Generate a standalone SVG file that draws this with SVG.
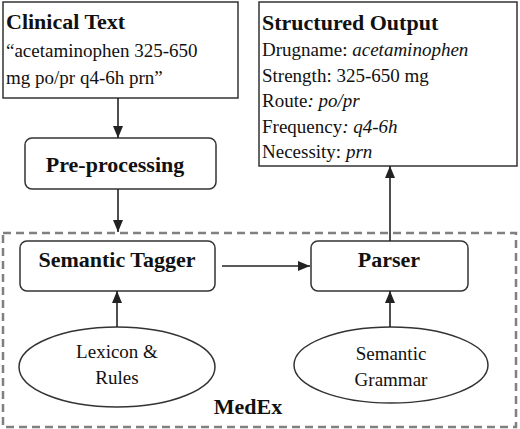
<svg xmlns="http://www.w3.org/2000/svg" width="520" height="429" viewBox="0 0 520 429">
<style>
.box{fill:#fff;stroke:#333;stroke-width:1.5}
.t{font-family:"Liberation Serif","Times New Roman",serif;fill:#111}
.b{font-weight:bold;font-size:22px}
.r{font-size:19px}
.i{font-style:italic}
.c{stroke:#222;stroke-width:1.6;fill:none}
</style>
<defs>
<marker id="ah" viewBox="0 0 12 10" refX="12" refY="5" markerWidth="12" markerHeight="10" markerUnits="userSpaceOnUse" orient="auto">
<path d="M0,0 L12,5 L0,10 z" fill="#222"/>
</marker>
</defs>
<rect width="520" height="429" fill="#fff"/>
<g id="medex">
<rect x="3" y="233" width="513" height="194" fill="none" stroke="#808080" stroke-width="2.5" stroke-dasharray="8,5"/>
<text class="t b" x="248" y="414" text-anchor="middle">MedEx</text>
</g>
<g id="clinical-text">
<rect class="box" x="3" y="2" width="235" height="96"/>
<text class="t b" x="6" y="29">Clinical Text</text>
<text class="t r" x="6" y="57">“acetaminophen 325-650</text>
<text class="t r" x="6" y="84">mg po/pr q4-6h prn”</text>
</g>
<g id="structured-output">
<rect class="box" x="259" y="2" width="258" height="164"/>
<text class="t b" x="262" y="30">Structured Output</text>
<text class="t r" x="262" y="56">Drugname: <tspan class="i">acetaminophen</tspan></text>
<text class="t r" x="262" y="82">Strength: 325-650 mg</text>
<text class="t r" x="262" y="107">Route<tspan class="i">: po/pr</tspan></text>
<text class="t r" x="262" y="133">Frequency<tspan class="i">: q4-6h</tspan></text>
<text class="t r" x="262" y="158">Necessity: <tspan class="i">prn</tspan></text>
</g>
<g id="pre-processing">
<rect class="box" x="25" y="138" width="191" height="51" rx="7"/>
<text class="t b" x="115" y="172" text-anchor="middle">Pre-processing</text>
</g>
<g id="semantic-tagger">
<rect class="box" x="20" y="241" width="195" height="50" rx="7"/>
<text class="t b" x="117" y="267" text-anchor="middle">Semantic Tagger</text>
</g>
<g id="parser">
<rect class="box" x="311" y="241" width="157" height="50" rx="7"/>
<text class="t b" x="389" y="267" text-anchor="middle">Parser</text>
</g>
<g id="lexicon-rules">
<ellipse class="box" cx="117" cy="367" rx="98" ry="40"/>
<text class="t r" x="117" y="358" text-anchor="middle">Lexicon &amp;</text>
<text class="t r" x="117" y="384" text-anchor="middle">Rules</text>
</g>
<g id="semantic-grammar">
<ellipse class="box" cx="391" cy="365" rx="97" ry="38"/>
<text class="t r" x="391" y="360" text-anchor="middle">Semantic</text>
<text class="t r" x="391" y="386" text-anchor="middle">Grammar</text>
</g>
<g id="connectors">
<line class="c" x1="118" y1="98" x2="118" y2="138" marker-end="url(#ah)"/>
<line class="c" x1="118" y1="189" x2="118" y2="232" marker-end="url(#ah)"/>
<line class="c" x1="222" y1="266" x2="310" y2="266" marker-end="url(#ah)"/>
<line class="c" x1="117" y1="327" x2="117" y2="291" marker-end="url(#ah)"/>
<line class="c" x1="390" y1="327" x2="390" y2="291" marker-end="url(#ah)"/>
<line class="c" x1="390" y1="241" x2="390" y2="166" marker-end="url(#ah)"/>
</g>
</svg>
